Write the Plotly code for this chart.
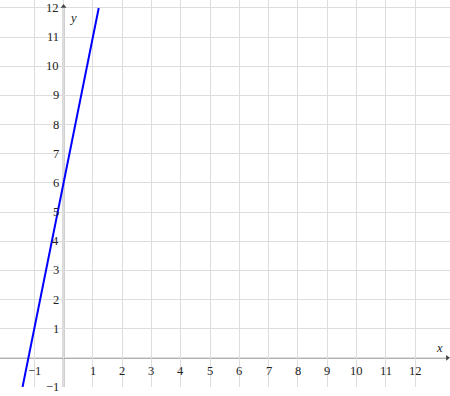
import plotly.graph_objects as go

# data
x_ticks = [-1, 1, 2, 3, 4, 5, 6, 7, 8, 9, 10, 11, 12]
y_ticks = [-1, 1, 2, 3, 4, 5, 6, 7, 8, 9, 10, 11, 12]
line_x = [-1.4, 1.2]
line_y = [-1, 12]

def lab(v):
    return ("\u2212" + str(-v)) if v < 0 else str(v)

X_RANGE = [-2.17, 13.19]
Y_RANGE = [-1.0, 12.274]

fig = go.Figure()

# y axis line (gray) and x axis line
fig.add_shape(type="line", x0=0, x1=0, y0=-1, y1=12.0, line=dict(color="#aaaaaa", width=2), layer="below")
fig.add_shape(type="line", x0=X_RANGE[0], x1=13.1, y0=0, y1=0, line=dict(color="#666666", width=1.2), layer="below")

fig.add_trace(go.Scatter(x=line_x, y=line_y, mode="lines",
                         line=dict(color="#0000ff", width=2), showlegend=False, hoverinfo="skip"))

# arrow heads
fig.add_trace(go.Scatter(x=[0], y=[12.05], mode="markers",
                         marker=dict(symbol="triangle-up", size=5, color="#444444"), showlegend=False, hoverinfo="skip"))
fig.add_trace(go.Scatter(x=[13.1], y=[0], mode="markers",
                         marker=dict(symbol="triangle-right", size=5, color="#444444"), showlegend=False, hoverinfo="skip"))

font = dict(family="Liberation Serif", size=12.5, color="#222222")
ann = []
for v in x_ticks:
    ann.append(dict(x=v, y=0, xref="x", yref="y", text=lab(v), showarrow=False,
                    xanchor="center", yanchor="top", yshift=-4, font=font))
for v in y_ticks:
    ann.append(dict(x=0, y=v, xref="x", yref="y", text=lab(v), showarrow=False,
                    xanchor="right", yanchor="middle", xshift=-3, font=font))
ann.append(dict(x=0, y=12, xref="x", yref="y", text="<i>y</i>", showarrow=False,
                xanchor="left", yanchor="top", xshift=3, yshift=-1, font=font))
ann.append(dict(x=13.1, y=0, xref="x", yref="y", text="<i>x</i>", showarrow=False,
                xanchor="right", yanchor="bottom", xshift=-2, yshift=1, font=font))

fig.update_layout(
    width=450, height=396,
    margin=dict(l=0, r=0, t=0, b=9),
    paper_bgcolor="white", plot_bgcolor="white",
    annotations=ann,
    xaxis=dict(range=X_RANGE, tickmode="array", tickvals=list(range(-1, 13)),
               showticklabels=False, showgrid=True, gridcolor="#dddddd", gridwidth=1,
               zeroline=False, showline=False, fixedrange=True),
    yaxis=dict(range=Y_RANGE, tickmode="array", tickvals=list(range(-1, 13)),
               showticklabels=False, showgrid=True, gridcolor="#dddddd", gridwidth=1,
               zeroline=False, showline=False, fixedrange=True),
)

fig.write_html("out.html")
